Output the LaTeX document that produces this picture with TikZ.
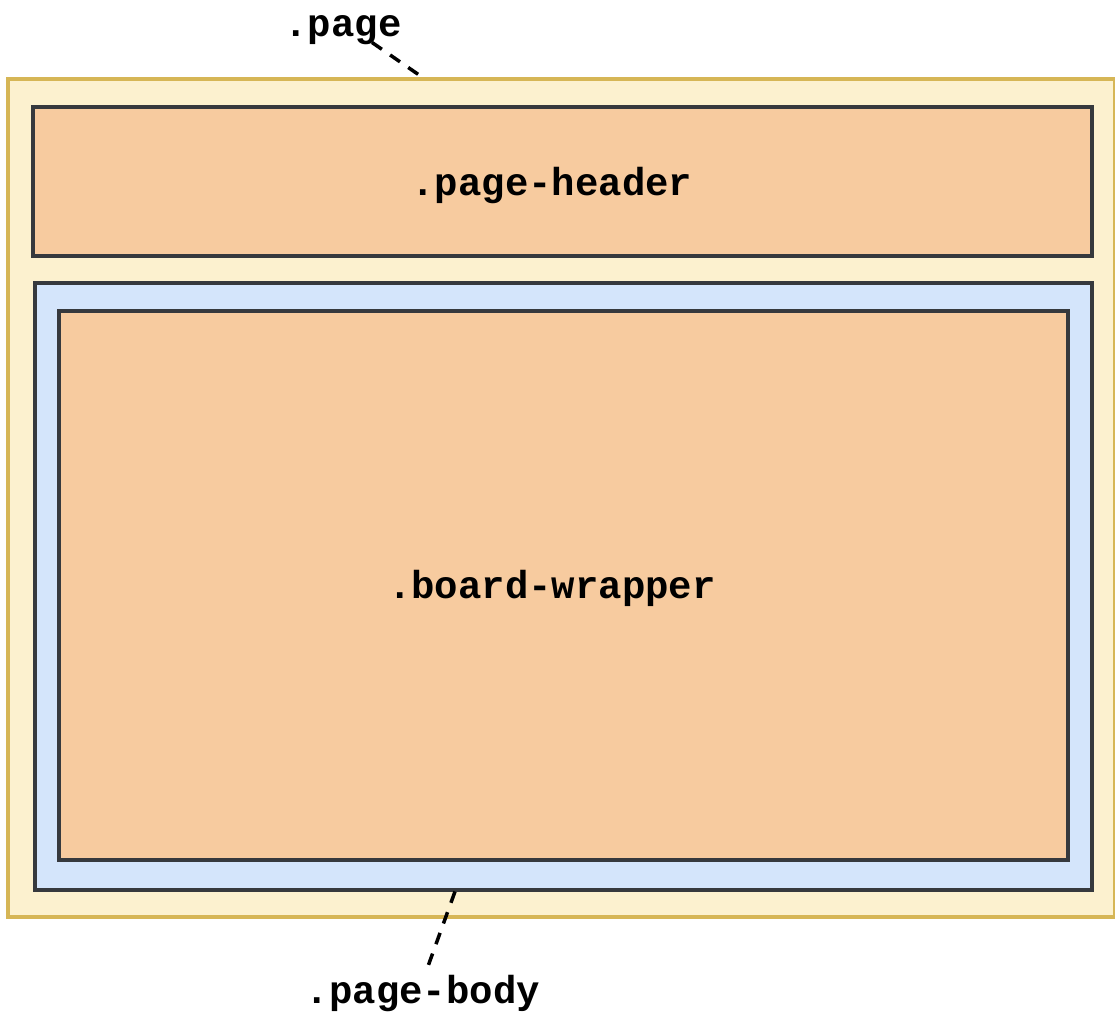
\documentclass[tikz,border=0pt]{standalone}
\usepackage{fontspec}
\setmonofont{Liberation Mono}
\definecolor{pagefill}{HTML}{FCF1CF}
\definecolor{pagestroke}{HTML}{D6B656}
\definecolor{orangefill}{HTML}{F7CB9F}
\definecolor{bluefill}{HTML}{D4E5FB}
\definecolor{darkstroke}{HTML}{36393D}
\tikzset{
  box/.style={draw, line width=3.5pt, anchor=north west, inner sep=0pt, rectangle},
  lbl/.style={font=\ttfamily\bfseries\fontsize{39}{39}\selectfont, inner sep=0pt, anchor=base},
  leader/.style={draw=black, line width=3.5pt, dash pattern=on 12pt off 10pt}
}
\begin{document}
\begin{tikzpicture}[x=1pt,y=-1pt]
\useasboundingbox (0,0) rectangle (1115,1017);
\node[box, draw=pagestroke, fill=pagefill, minimum width=1107pt, minimum height=838pt] (page) at (6,77) {};
\node[box, draw=darkstroke, fill=orangefill, minimum width=1059pt, minimum height=149pt] (header) at (31,105) {};
\node[box, draw=darkstroke, fill=bluefill, minimum width=1057pt, minimum height=607pt] (body) at (33,281) {};
\node[box, draw=darkstroke, fill=orangefill, minimum width=1009pt, minimum height=549pt] (board) at (57,309) {};
\node[lbl] (headerlbl) at (552,195) {.page-header};
\node[lbl] (boardlbl) at (552,598) {.board-wrapper};
\node[lbl] (pagelbl) at (343,36) {.page};
\node[lbl] (bodylbl) at (423,1003) {.page-body};
\draw[leader] (372,0 |- pagelbl.south) ++(0,-2) -- (422,0 |- page.north);
\draw[leader, shorten >=7pt] (455,0 |- body.south) -- (425,0 |- bodylbl.north);
\end{tikzpicture}
\end{document}
